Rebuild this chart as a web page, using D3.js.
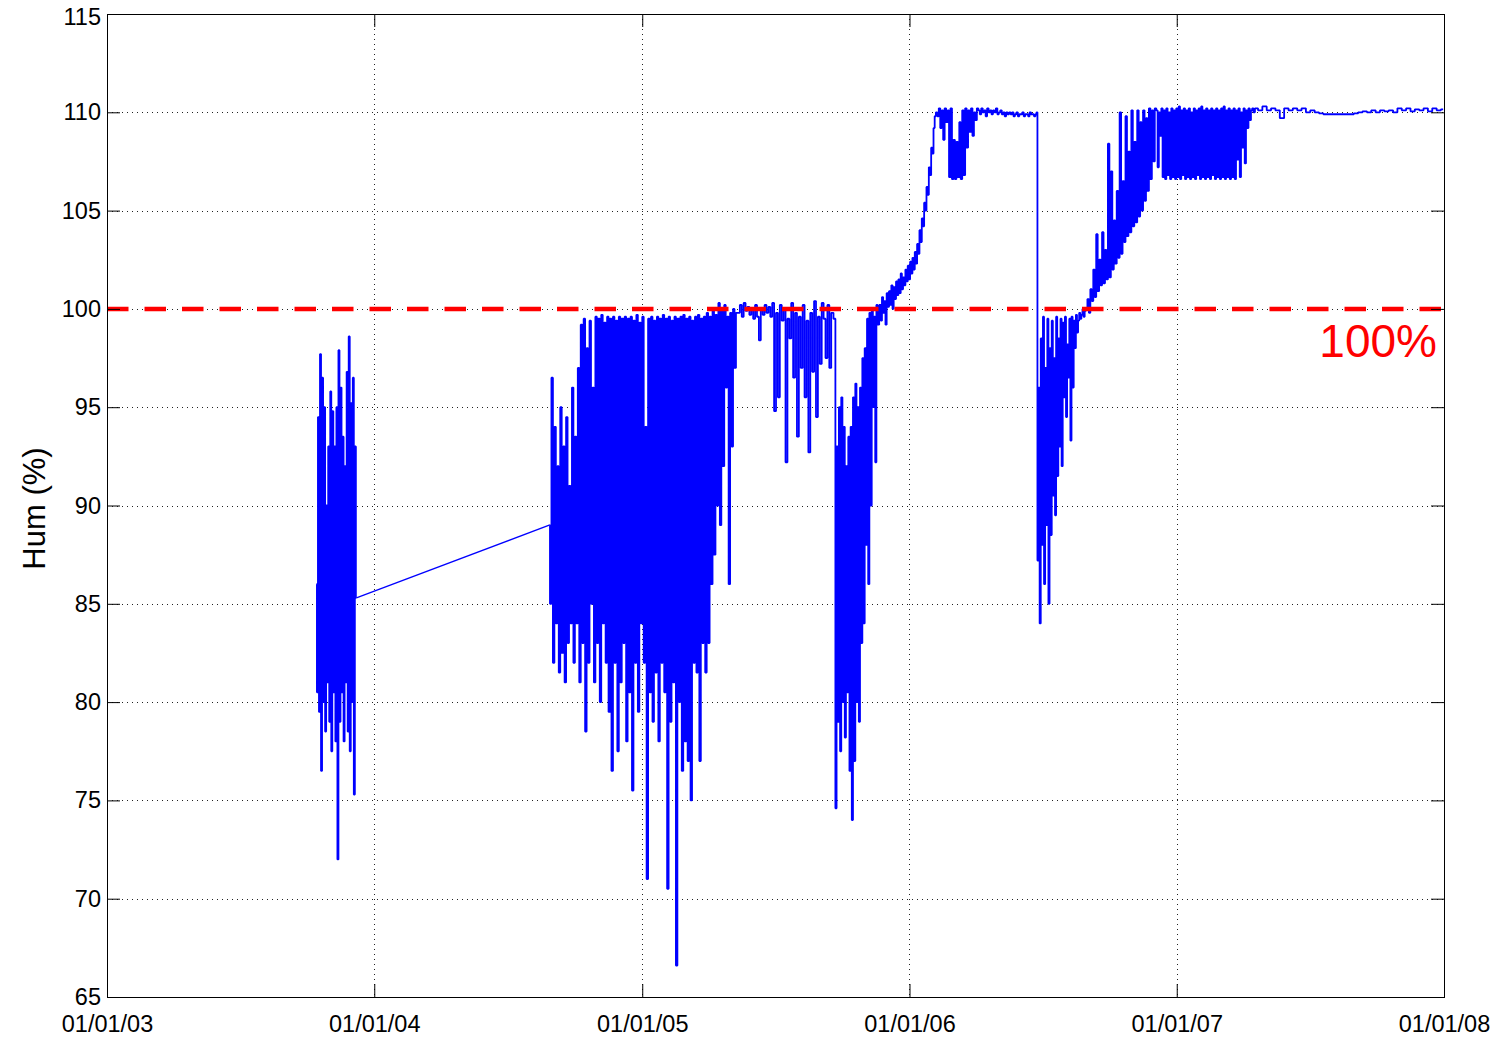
<!DOCTYPE html>
<html>
<head>
<meta charset="utf-8">
<script src="https://cdn.jsdelivr.net/npm/d3@7"></script>
<style>
  body { margin: 0; background: #fff; }
  text { font-family: "Liberation Sans", Arial, sans-serif; }
</style>
</head>
<body>
<div id="chart"></div>
<script>
// ─── DATA ────────────────────────────────────────────────────────
// x axis: one tick per year, y axis: humidity ticks
const xTickDates = ['2003-01-01', '2004-01-01', '2005-01-01', '2006-01-01', '2007-01-01', '2008-01-01']
const yTicks = [65, 70, 75, 80, 85, 90, 95, 100, 105, 110, 115]
const limitValue = 100
const limitLabel = '100%'

// each record: first sample date, sampling step (days), humidity values
const humA = [86, 80.5, 94.5, 79.5, 97.7, 76.5, 96.5, 80, 95, 78.5, 90, 81, 93, 79, 95.8, 77.5, 94.8, 80.5, 93, 78,
  95, 72, 97.9, 79, 96, 80.5, 93.5, 78, 92, 81, 96.8, 78.5, 98.6, 77.5, 95.2, 80, 96.5, 75.3, 93, 85.3]
const humB1 = [89, 85, 96.5, 82, 94, 84, 92, 81.5,
  95, 82.5, 93, 81, 94.5, 83, 91, 84,
  96, 82, 93.5, 84, 97, 81, 99.2, 83,
  99.5, 78.5, 98, 82, 99.4, 85, 96, 81,
  99.6, 83, 99.5, 80, 99.7, 84, 99.3, 82,
  99.6, 79.5, 99.5, 76.5, 99.6, 82, 99.4, 77.5,
  99.6, 81, 99.5, 83, 99.6, 78, 99.5, 80.5,
  99.6, 75.5, 99.4, 82, 99.7, 79.5, 99.3, 84,
  99.6, 82, 94, 71, 99.5, 80.5, 99.6, 79,
  99.4, 81.5, 99.6, 78, 99.5, 82, 99.7, 80.5,
  99.5, 70.5, 99.6, 79, 99.4, 81, 99.6, 66.6,
  99.5, 80, 99.6, 76.5, 99.7, 78, 99.5, 77,
  99.6, 75, 99.4, 82, 99.6, 81.5, 99.7, 77,
  99.5, 83, 99.6, 81.5, 99.8, 83, 99.6, 86,
  100, 87.5, 99.7, 90, 100.3, 89, 99.9, 92,
  100.2, 96, 99.6, 86, 99.8, 93, 100, 97, 99.8]
const humB2 = [99.8, 100.2, 99.6, 100.3, 99.9, 100.1, 99.7, 100, 99.5, 100.2,
  99.6, 98.4, 100, 99.7, 100.2, 99.8, 100.1, 99.6, 100.3, 94.8,
  99.8, 95.5, 100.2, 99.4, 100, 92.2, 99.5, 98.5, 100.3, 96.5,
  99.8, 93.5, 99.6, 97, 100.2, 95.5, 99.4, 92.7, 99.8, 96.8,
  100.4, 94.5, 99.6, 97.2, 100.3, 99.5, 97.5, 100.2, 97, 99.8]
const humB3 = [99.5, 74.6, 93, 79, 95, 77.5, 95.5, 80, 94, 78.2, 92, 80.5, 93.5, 76.5, 94, 74, 95.5, 77, 96.2, 80,
  95, 79, 96, 83, 97.5, 84, 98, 88, 99.5, 86, 99.8, 90, 100, 95, 99.6, 92.2, 100.2, 99.2]
const humC = [100.2, 99.4, 100.6, 99.8, 100.4, 99.2, 100.8, 100.1,
  100.9, 100.2, 101.2, 100, 101.1, 100.5, 101.4, 100.7,
  101.5, 100.8, 101.8, 101, 101.6, 101.2, 102, 101.4,
  102.2, 101.5, 102.4, 101.8, 102.6, 102, 102.9, 102.3,
  103.3, 102.8, 104, 103.4, 104.6, 104.2, 105.4, 105,
  106.2, 105.8, 107.2, 106.8, 108.2, 107.9, 109.2, 109.8]
const humD = [110, 109.8, 110.2, 109.2, 110.1, 108.6, 110.2, 109.5,
  110.1, 106.7, 110.2, 106.6, 108.6, 106.6, 108.5, 106.7, 109.5, 106.6, 110.1, 106.8,
  110.2, 108.2, 110.1, 109, 110.2, 108.8, 110, 109.6, 110.2,
  110.1, 109.9, 110.2, 110, 110.1, 109.8, 110.2, 110, 110.1, 109.9, 110.1, 110, 110.2, 109.9, 110, 110.1,
  109.9, 110, 109.8, 110, 109.9, 110, 109.9, 110, 109.8, 109.9, 110, 109.8, 109.9, 109.9, 110, 109.8,
  109.9, 109.9, 109.8, 110, 109.9, 109.9, 109.8, 109.9]
const humE = [110, 87.2, 96, 84, 98.5, 88, 99.6, 86, 97, 89, 99.5, 85, 98, 88.5, 99.4, 90.5, 97.5, 89.5,
  99.6, 91.5, 98.5, 93, 99.5, 92, 99.3, 95.5, 99.6, 94.5, 98.2, 96.5, 99.5, 93.3, 99.6, 96, 99.4, 98,
  99.7, 98.8, 99.4, 99.8, 99.5, 99.7, 100, 99.6, 99.9]
const humF = [100, 100.5, 99.8, 101, 100.4, 102, 100.6, 103.8, 100.9, 102.5, 101.2, 103.9, 101.3, 103,
  101.5, 108.4, 101.6, 107, 102, 104.5, 102.3, 106, 102.6, 110, 102.8, 106.5, 103.4, 109.8, 103.7, 108,
  103.9, 110.1, 104.2, 108.5, 104.4, 110.1, 104.7, 109.5, 105, 110.1, 105.5, 109.7, 106, 110.2, 106.6,
  110.1, 107.5, 110.2]
const humG = [110.1, 107.2, 110, 108.8, 110.2, 106.7, 110.1, 106.6, 110.2, 106.8, 110, 106.6, 110.2, 106.7,
  110.1, 106.6, 110.2, 106.7, 110.3, 106.6, 110.1, 106.8, 110.2, 106.6, 110.1, 106.7, 110.2, 106.6, 110,
  106.7, 110.2, 106.6, 110.1, 106.8, 110.2, 106.6, 110.3, 106.7, 110.1, 106.6, 110.2, 106.7, 110.1, 106.6,
  110.2, 106.8, 110.1, 106.6, 110.2, 106.7, 110.1, 106.6, 110.2, 106.7, 110.3, 106.6, 110.1, 106.7, 110.2,
  106.6, 110.1, 106.7, 110.2, 106.6, 110.1, 107.6, 110.2, 106.7, 110, 108.2, 110.2, 107.4, 110.1, 109.2,
  110.2, 109.6, 110.1, 110.2, 110]
const humH = [110.2, 110.1, 110.3, 110.1, 110.2, 110.1, 109.7, 110.2, 110.1, 110.2, 110.1, 110.2, 110, 110.1,
  110, 109.95, 109.9, 109.9, 109.9, 109.9, 109.9, 109.9, 109.9, 109.95, 110, 110.05, 110, 110.1, 110,
  110.1, 110.05, 110.1, 110, 110.2, 110.1, 110.2, 110.05, 110.15, 110.1, 110.2, 110.05, 110.2, 110.1, 110.15]

const segments = [
  { start: '2003-10-14', step: 1.4, values: humA },
  { start: '2004-08-27', step: 2, values: humB1 },
  { start: '2005-05-13', step: 2.6, values: humB2 },
  { start: '2005-09-21', step: 1.6, values: humB3 },
  { start: '2005-11-22', step: 1.6, values: humC },
  { start: '2006-02-07', step: 2, values: humD },
  { start: '2006-06-24', step: 1.5, values: humE },
  { start: '2006-08-31', step: 2, values: humF },
  { start: '2006-12-05', step: 1.7, values: humG },
  { start: '2007-04-19', step: 5.95, values: humH }
]

// ─── LAYOUT ──────────────────────────────────────────────────────
const MARGIN = { TOP: 14, BOTTOM: 41, LEFT: 107, RIGHT: 62 }
const WIDTH = 1506 - MARGIN.LEFT - MARGIN.RIGHT
const HEIGHT = 1038 - MARGIN.TOP - MARGIN.BOTTOM
const TICK = 13
const DAY = 86400000
const MAX_GAP = 20 // days; a longer break in logging is bridged by a straight line

const parse = d3.utcParse('%Y-%m-%d')

// flatten the sampled segments into one series
const series = []
segments.forEach(seg => {
  const t0 = parse(seg.start).getTime()
  seg.values.forEach((v, i) => series.push({ t: new Date(t0 + i * seg.step * DAY), v: v }))
})

// split into continuous runs, keep the bridges between them
const runs = [[series[0]]]
const bridges = []
for (let i = 1; i < series.length; i++) {
  if (series[i].t - series[i - 1].t > MAX_GAP * DAY) {
    bridges.push([series[i - 1], series[i]])
    runs.push([])
  }
  runs[runs.length - 1].push(series[i])
}

const svg = d3.select('#chart').append('svg')
  .attr('width', WIDTH + MARGIN.LEFT + MARGIN.RIGHT)
  .attr('height', HEIGHT + MARGIN.TOP + MARGIN.BOTTOM)

const g = svg.append('g')
  .attr('transform', `translate(${MARGIN.LEFT}, ${MARGIN.TOP})`)

// ─── SCALES ──────────────────────────────────────────────────────
const xDates = xTickDates.map(parse)
const x = d3.scaleUtc()
  .domain([xDates[0], xDates[xDates.length - 1]])
  .range([0, WIDTH])
const y = d3.scaleLinear()
  .domain([yTicks[0], yTicks[yTicks.length - 1]])
  .range([HEIGHT, 0])

// ─── GRID ────────────────────────────────────────────────────────
const grid = g.append('g')
  .attr('stroke', '#222')
  .attr('stroke-width', 1)
  .attr('stroke-dasharray', '1,4')
grid.selectAll('.gx').data(xDates.slice(1, -1)).enter().append('line')
  .attr('x1', d => Math.round(x(d)) + 0.5).attr('x2', d => Math.round(x(d)) + 0.5)
  .attr('y1', 0).attr('y2', HEIGHT)
grid.selectAll('.gy').data(yTicks.slice(1, -1)).enter().append('line')
  .attr('y1', d => Math.round(y(d)) + 0.5).attr('y2', d => Math.round(y(d)) + 0.5)
  .attr('x1', 0).attr('x2', WIDTH)

// ─── DATA LINE ───────────────────────────────────────────────────
g.append('clipPath').attr('id', 'clip')
  .append('rect').attr('width', WIDTH).attr('height', HEIGHT)

const dataG = g.append('g')
  .attr('clip-path', 'url(#clip)')
  .attr('fill', 'none')
  .attr('stroke', '#0000ff')
  .attr('stroke-linejoin', 'bevel')

// samples -> vertical strokes (dense logger data)
const stepLine = d3.line()
  .curve(d3.curveStep)
  .x(d => x(d.t))
  .y(d => y(d.v))
const straight = d3.line()
  .x(d => x(d.t))
  .y(d => y(d.v))

dataG.selectAll('.run').data(runs).enter().append('path')
  .attr('stroke-width', 1.8)
  .attr('d', stepLine)
dataG.selectAll('.bridge').data(bridges).enter().append('path')
  .attr('stroke-width', 1.3)
  .attr('d', straight)

// 100% limit
g.append('line')
  .attr('x1', 0).attr('x2', WIDTH)
  .attr('y1', y(limitValue)).attr('y2', y(limitValue))
  .attr('stroke', '#ff0000')
  .attr('stroke-width', 4.5)
  .attr('stroke-dasharray', '21.5,16')

g.append('text')
  .attr('x', WIDTH - 7)
  .attr('y', y(limitValue) + 48)
  .attr('text-anchor', 'end')
  .attr('font-size', 46)
  .attr('fill', '#ff0000')
  .text(limitLabel)

// ─── AXES ────────────────────────────────────────────────────────
const fmt = d3.utcFormat('%d/%m/%y')

const xAxis = g.append('g')
  .attr('transform', `translate(0, ${HEIGHT})`)
  .call(d3.axisBottom(x).tickValues(xDates).tickFormat(fmt).tickSize(-TICK).tickPadding(18))
const xTop = g.append('g')
  .call(d3.axisTop(x).tickValues(xDates).tickFormat('').tickSize(-TICK))
const yAxis = g.append('g')
  .call(d3.axisLeft(y).tickValues(yTicks).tickSize(-TICK).tickPadding(6))
const yRight = g.append('g')
  .attr('transform', `translate(${WIDTH}, 0)`)
  .call(d3.axisRight(y).tickValues(yTicks).tickFormat('').tickSize(-TICK))

;[xAxis, xTop, yAxis, yRight].forEach(a => {
  a.select('.domain').remove()
  a.selectAll('.tick line').attr('stroke', '#000')
  a.selectAll('text')
    .attr('font-size', 23.5)
    .attr('fill', '#000')
    .style('font-family', '"Liberation Sans", Arial, sans-serif')
})
// top y label sits a little lower than its tick in the original
yAxis.selectAll('.tick text').attr('dy', d => d === yTicks[yTicks.length - 1] ? '0.45em' : '0.32em')

// frame
g.append('rect')
  .attr('x', 0.5).attr('y', 0.5)
  .attr('width', WIDTH).attr('height', HEIGHT)
  .attr('fill', 'none')
  .attr('stroke', '#000')
  .attr('stroke-width', 1)

// ─── LABEL ───────────────────────────────────────────────────────
g.append('text')
  .attr('x', -(HEIGHT / 2) - 3)
  .attr('y', -62)
  .attr('transform', 'rotate(-90)')
  .attr('text-anchor', 'middle')
  .attr('font-size', 31)
  .attr('fill', '#000')
  .text('Hum (%)')
</script>
</body>
</html>
